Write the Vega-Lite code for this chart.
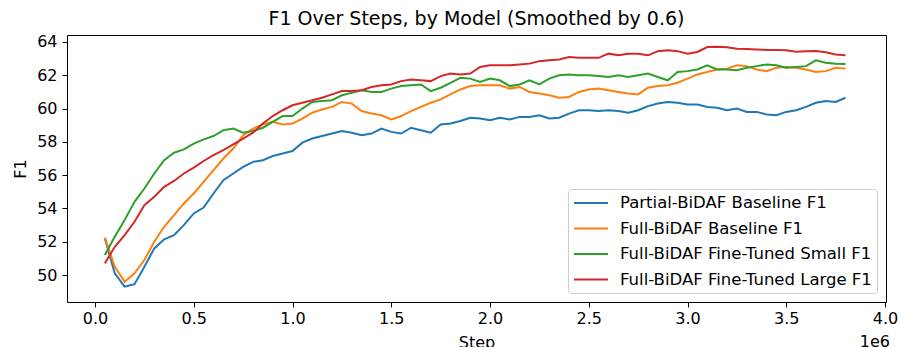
{
"$schema":"https://vega.github.io/schema/vega-lite/v6.json",
"width":819,"height":267,
"autosize":{"type":"none"},
"padding":{"left":67,"top":35,"right":13,"bottom":45},
"background":"white",
"config":{"font":"DejaVu Sans","view":{"stroke":"#000","strokeWidth":1},"axis":{"labelOverlap":false,"grid":false,"domain":false}},
"title":{"text":"F1 Over Steps, by Model (Smoothed by 0.6)","fontSize":19,"fontWeight":"normal","color":"#000","anchor":"middle","offset":5},
"layer":[
{"data":{"values":[
{"Step":50000,"Partial-BiDAF Baseline F1":52.2,"Full-BiDAF Baseline F1":52.25,"Full-BiDAF Fine-Tuned Small F1":51.2,"Full-BiDAF Fine-Tuned Large F1":50.7},
{"Step":100000,"Partial-BiDAF Baseline F1":50.1,"Full-BiDAF Baseline F1":50.5,"Full-BiDAF Fine-Tuned Small F1":52.3,"Full-BiDAF Fine-Tuned Large F1":51.7},
{"Step":150000,"Partial-BiDAF Baseline F1":49.3,"Full-BiDAF Baseline F1":49.6,"Full-BiDAF Fine-Tuned Small F1":53.3,"Full-BiDAF Fine-Tuned Large F1":52.4},
{"Step":200000,"Partial-BiDAF Baseline F1":49.45,"Full-BiDAF Baseline F1":50.1,"Full-BiDAF Fine-Tuned Small F1":54.4,"Full-BiDAF Fine-Tuned Large F1":53.2},
{"Step":250000,"Partial-BiDAF Baseline F1":50.5,"Full-BiDAF Baseline F1":50.9,"Full-BiDAF Fine-Tuned Small F1":55.2,"Full-BiDAF Fine-Tuned Large F1":54.2},
{"Step":300000,"Partial-BiDAF Baseline F1":51.6,"Full-BiDAF Baseline F1":52.0,"Full-BiDAF Fine-Tuned Small F1":56.1,"Full-BiDAF Fine-Tuned Large F1":54.7},
{"Step":350000,"Partial-BiDAF Baseline F1":52.15,"Full-BiDAF Baseline F1":52.9,"Full-BiDAF Fine-Tuned Small F1":56.9,"Full-BiDAF Fine-Tuned Large F1":55.3},
{"Step":400000,"Partial-BiDAF Baseline F1":52.4,"Full-BiDAF Baseline F1":53.6,"Full-BiDAF Fine-Tuned Small F1":57.35,"Full-BiDAF Fine-Tuned Large F1":55.65},
{"Step":450000,"Partial-BiDAF Baseline F1":53.0,"Full-BiDAF Baseline F1":54.3,"Full-BiDAF Fine-Tuned Small F1":57.55,"Full-BiDAF Fine-Tuned Large F1":56.1},
{"Step":500000,"Partial-BiDAF Baseline F1":53.7,"Full-BiDAF Baseline F1":54.9,"Full-BiDAF Fine-Tuned Small F1":57.9,"Full-BiDAF Fine-Tuned Large F1":56.45},
{"Step":550000,"Partial-BiDAF Baseline F1":54.05,"Full-BiDAF Baseline F1":55.6,"Full-BiDAF Fine-Tuned Small F1":58.15,"Full-BiDAF Fine-Tuned Large F1":56.85},
{"Step":600000,"Partial-BiDAF Baseline F1":54.9,"Full-BiDAF Baseline F1":56.3,"Full-BiDAF Fine-Tuned Small F1":58.35,"Full-BiDAF Fine-Tuned Large F1":57.2},
{"Step":650000,"Partial-BiDAF Baseline F1":55.7,"Full-BiDAF Baseline F1":57.0,"Full-BiDAF Fine-Tuned Small F1":58.7,"Full-BiDAF Fine-Tuned Large F1":57.5},
{"Step":700000,"Partial-BiDAF Baseline F1":56.1,"Full-BiDAF Baseline F1":57.6,"Full-BiDAF Fine-Tuned Small F1":58.8,"Full-BiDAF Fine-Tuned Large F1":57.85},
{"Step":750000,"Partial-BiDAF Baseline F1":56.5,"Full-BiDAF Baseline F1":58.4,"Full-BiDAF Fine-Tuned Small F1":58.55,"Full-BiDAF Fine-Tuned Large F1":58.2},
{"Step":800000,"Partial-BiDAF Baseline F1":56.8,"Full-BiDAF Baseline F1":58.8,"Full-BiDAF Fine-Tuned Small F1":58.65,"Full-BiDAF Fine-Tuned Large F1":58.55},
{"Step":850000,"Partial-BiDAF Baseline F1":56.9,"Full-BiDAF Baseline F1":59.05,"Full-BiDAF Fine-Tuned Small F1":58.85,"Full-BiDAF Fine-Tuned Large F1":59.1},
{"Step":900000,"Partial-BiDAF Baseline F1":57.15,"Full-BiDAF Baseline F1":59.2,"Full-BiDAF Fine-Tuned Small F1":59.2,"Full-BiDAF Fine-Tuned Large F1":59.55},
{"Step":950000,"Partial-BiDAF Baseline F1":57.3,"Full-BiDAF Baseline F1":59.05,"Full-BiDAF Fine-Tuned Small F1":59.55,"Full-BiDAF Fine-Tuned Large F1":59.9},
{"Step":1000000,"Partial-BiDAF Baseline F1":57.45,"Full-BiDAF Baseline F1":59.1,"Full-BiDAF Fine-Tuned Small F1":59.55,"Full-BiDAF Fine-Tuned Large F1":60.2},
{"Step":1050000,"Partial-BiDAF Baseline F1":57.95,"Full-BiDAF Baseline F1":59.4,"Full-BiDAF Fine-Tuned Small F1":60.0,"Full-BiDAF Fine-Tuned Large F1":60.35},
{"Step":1100000,"Partial-BiDAF Baseline F1":58.2,"Full-BiDAF Baseline F1":59.75,"Full-BiDAF Fine-Tuned Small F1":60.4,"Full-BiDAF Fine-Tuned Large F1":60.5},
{"Step":1150000,"Partial-BiDAF Baseline F1":58.35,"Full-BiDAF Baseline F1":59.95,"Full-BiDAF Fine-Tuned Small F1":60.45,"Full-BiDAF Fine-Tuned Large F1":60.65},
{"Step":1200000,"Partial-BiDAF Baseline F1":58.5,"Full-BiDAF Baseline F1":60.1,"Full-BiDAF Fine-Tuned Small F1":60.5,"Full-BiDAF Fine-Tuned Large F1":60.85},
{"Step":1250000,"Partial-BiDAF Baseline F1":58.65,"Full-BiDAF Baseline F1":60.4,"Full-BiDAF Fine-Tuned Small F1":60.8,"Full-BiDAF Fine-Tuned Large F1":61.05},
{"Step":1300000,"Partial-BiDAF Baseline F1":58.55,"Full-BiDAF Baseline F1":60.3,"Full-BiDAF Fine-Tuned Small F1":60.95,"Full-BiDAF Fine-Tuned Large F1":61.05},
{"Step":1350000,"Partial-BiDAF Baseline F1":58.4,"Full-BiDAF Baseline F1":59.85,"Full-BiDAF Fine-Tuned Small F1":61.1,"Full-BiDAF Fine-Tuned Large F1":61.1},
{"Step":1400000,"Partial-BiDAF Baseline F1":58.5,"Full-BiDAF Baseline F1":59.7,"Full-BiDAF Fine-Tuned Small F1":61.0,"Full-BiDAF Fine-Tuned Large F1":61.3},
{"Step":1450000,"Partial-BiDAF Baseline F1":58.8,"Full-BiDAF Baseline F1":59.6,"Full-BiDAF Fine-Tuned Small F1":61.0,"Full-BiDAF Fine-Tuned Large F1":61.4},
{"Step":1500000,"Partial-BiDAF Baseline F1":58.6,"Full-BiDAF Baseline F1":59.35,"Full-BiDAF Fine-Tuned Small F1":61.2,"Full-BiDAF Fine-Tuned Large F1":61.45},
{"Step":1550000,"Partial-BiDAF Baseline F1":58.5,"Full-BiDAF Baseline F1":59.55,"Full-BiDAF Fine-Tuned Small F1":61.35,"Full-BiDAF Fine-Tuned Large F1":61.65},
{"Step":1600000,"Partial-BiDAF Baseline F1":58.85,"Full-BiDAF Baseline F1":59.85,"Full-BiDAF Fine-Tuned Small F1":61.4,"Full-BiDAF Fine-Tuned Large F1":61.75},
{"Step":1650000,"Partial-BiDAF Baseline F1":58.7,"Full-BiDAF Baseline F1":60.1,"Full-BiDAF Fine-Tuned Small F1":61.45,"Full-BiDAF Fine-Tuned Large F1":61.7},
{"Step":1700000,"Partial-BiDAF Baseline F1":58.55,"Full-BiDAF Baseline F1":60.35,"Full-BiDAF Fine-Tuned Small F1":61.05,"Full-BiDAF Fine-Tuned Large F1":61.65},
{"Step":1750000,"Partial-BiDAF Baseline F1":59.05,"Full-BiDAF Baseline F1":60.55,"Full-BiDAF Fine-Tuned Small F1":61.25,"Full-BiDAF Fine-Tuned Large F1":61.95},
{"Step":1800000,"Partial-BiDAF Baseline F1":59.1,"Full-BiDAF Baseline F1":60.85,"Full-BiDAF Fine-Tuned Small F1":61.55,"Full-BiDAF Fine-Tuned Large F1":62.1},
{"Step":1850000,"Partial-BiDAF Baseline F1":59.25,"Full-BiDAF Baseline F1":61.15,"Full-BiDAF Fine-Tuned Small F1":61.85,"Full-BiDAF Fine-Tuned Large F1":62.05},
{"Step":1900000,"Partial-BiDAF Baseline F1":59.45,"Full-BiDAF Baseline F1":61.35,"Full-BiDAF Fine-Tuned Small F1":61.8,"Full-BiDAF Fine-Tuned Large F1":62.1},
{"Step":1950000,"Partial-BiDAF Baseline F1":59.4,"Full-BiDAF Baseline F1":61.4,"Full-BiDAF Fine-Tuned Small F1":61.6,"Full-BiDAF Fine-Tuned Large F1":62.5},
{"Step":2000000,"Partial-BiDAF Baseline F1":59.3,"Full-BiDAF Baseline F1":61.4,"Full-BiDAF Fine-Tuned Small F1":61.8,"Full-BiDAF Fine-Tuned Large F1":62.6},
{"Step":2050000,"Partial-BiDAF Baseline F1":59.45,"Full-BiDAF Baseline F1":61.4,"Full-BiDAF Fine-Tuned Small F1":61.7,"Full-BiDAF Fine-Tuned Large F1":62.6},
{"Step":2100000,"Partial-BiDAF Baseline F1":59.35,"Full-BiDAF Baseline F1":61.2,"Full-BiDAF Fine-Tuned Small F1":61.35,"Full-BiDAF Fine-Tuned Large F1":62.6},
{"Step":2150000,"Partial-BiDAF Baseline F1":59.5,"Full-BiDAF Baseline F1":61.3,"Full-BiDAF Fine-Tuned Small F1":61.45,"Full-BiDAF Fine-Tuned Large F1":62.65},
{"Step":2200000,"Partial-BiDAF Baseline F1":59.5,"Full-BiDAF Baseline F1":61.0,"Full-BiDAF Fine-Tuned Small F1":61.7,"Full-BiDAF Fine-Tuned Large F1":62.7},
{"Step":2250000,"Partial-BiDAF Baseline F1":59.6,"Full-BiDAF Baseline F1":60.9,"Full-BiDAF Fine-Tuned Small F1":61.45,"Full-BiDAF Fine-Tuned Large F1":62.85},
{"Step":2300000,"Partial-BiDAF Baseline F1":59.4,"Full-BiDAF Baseline F1":60.8,"Full-BiDAF Fine-Tuned Small F1":61.8,"Full-BiDAF Fine-Tuned Large F1":62.9},
{"Step":2350000,"Partial-BiDAF Baseline F1":59.45,"Full-BiDAF Baseline F1":60.65,"Full-BiDAF Fine-Tuned Small F1":62.0,"Full-BiDAF Fine-Tuned Large F1":62.95},
{"Step":2400000,"Partial-BiDAF Baseline F1":59.7,"Full-BiDAF Baseline F1":60.7,"Full-BiDAF Fine-Tuned Small F1":62.05,"Full-BiDAF Fine-Tuned Large F1":63.1},
{"Step":2450000,"Partial-BiDAF Baseline F1":59.9,"Full-BiDAF Baseline F1":61.0,"Full-BiDAF Fine-Tuned Small F1":62.0,"Full-BiDAF Fine-Tuned Large F1":63.05},
{"Step":2500000,"Partial-BiDAF Baseline F1":59.9,"Full-BiDAF Baseline F1":61.15,"Full-BiDAF Fine-Tuned Small F1":62.0,"Full-BiDAF Fine-Tuned Large F1":63.05},
{"Step":2550000,"Partial-BiDAF Baseline F1":59.85,"Full-BiDAF Baseline F1":61.2,"Full-BiDAF Fine-Tuned Small F1":61.95,"Full-BiDAF Fine-Tuned Large F1":63.05},
{"Step":2600000,"Partial-BiDAF Baseline F1":59.9,"Full-BiDAF Baseline F1":61.1,"Full-BiDAF Fine-Tuned Small F1":61.9,"Full-BiDAF Fine-Tuned Large F1":63.3},
{"Step":2650000,"Partial-BiDAF Baseline F1":59.85,"Full-BiDAF Baseline F1":61.0,"Full-BiDAF Fine-Tuned Small F1":62.0,"Full-BiDAF Fine-Tuned Large F1":63.2},
{"Step":2700000,"Partial-BiDAF Baseline F1":59.75,"Full-BiDAF Baseline F1":60.9,"Full-BiDAF Fine-Tuned Small F1":61.9,"Full-BiDAF Fine-Tuned Large F1":63.3},
{"Step":2750000,"Partial-BiDAF Baseline F1":59.9,"Full-BiDAF Baseline F1":60.85,"Full-BiDAF Fine-Tuned Small F1":62.0,"Full-BiDAF Fine-Tuned Large F1":63.3},
{"Step":2800000,"Partial-BiDAF Baseline F1":60.15,"Full-BiDAF Baseline F1":61.25,"Full-BiDAF Fine-Tuned Small F1":62.1,"Full-BiDAF Fine-Tuned Large F1":63.2},
{"Step":2850000,"Partial-BiDAF Baseline F1":60.3,"Full-BiDAF Baseline F1":61.35,"Full-BiDAF Fine-Tuned Small F1":61.9,"Full-BiDAF Fine-Tuned Large F1":63.45},
{"Step":2900000,"Partial-BiDAF Baseline F1":60.4,"Full-BiDAF Baseline F1":61.4,"Full-BiDAF Fine-Tuned Small F1":61.7,"Full-BiDAF Fine-Tuned Large F1":63.5},
{"Step":2950000,"Partial-BiDAF Baseline F1":60.35,"Full-BiDAF Baseline F1":61.55,"Full-BiDAF Fine-Tuned Small F1":62.2,"Full-BiDAF Fine-Tuned Large F1":63.45},
{"Step":3000000,"Partial-BiDAF Baseline F1":60.25,"Full-BiDAF Baseline F1":61.8,"Full-BiDAF Fine-Tuned Small F1":62.25,"Full-BiDAF Fine-Tuned Large F1":63.3},
{"Step":3050000,"Partial-BiDAF Baseline F1":60.25,"Full-BiDAF Baseline F1":62.05,"Full-BiDAF Fine-Tuned Small F1":62.35,"Full-BiDAF Fine-Tuned Large F1":63.4},
{"Step":3100000,"Partial-BiDAF Baseline F1":60.1,"Full-BiDAF Baseline F1":62.2,"Full-BiDAF Fine-Tuned Small F1":62.6,"Full-BiDAF Fine-Tuned Large F1":63.7},
{"Step":3150000,"Partial-BiDAF Baseline F1":60.05,"Full-BiDAF Baseline F1":62.35,"Full-BiDAF Fine-Tuned Small F1":62.35,"Full-BiDAF Fine-Tuned Large F1":63.72},
{"Step":3200000,"Partial-BiDAF Baseline F1":59.9,"Full-BiDAF Baseline F1":62.4,"Full-BiDAF Fine-Tuned Small F1":62.35,"Full-BiDAF Fine-Tuned Large F1":63.68},
{"Step":3250000,"Partial-BiDAF Baseline F1":60.0,"Full-BiDAF Baseline F1":62.6,"Full-BiDAF Fine-Tuned Small F1":62.3,"Full-BiDAF Fine-Tuned Large F1":63.6},
{"Step":3300000,"Partial-BiDAF Baseline F1":59.8,"Full-BiDAF Baseline F1":62.55,"Full-BiDAF Fine-Tuned Small F1":62.45,"Full-BiDAF Fine-Tuned Large F1":63.58},
{"Step":3350000,"Partial-BiDAF Baseline F1":59.8,"Full-BiDAF Baseline F1":62.35,"Full-BiDAF Fine-Tuned Small F1":62.55,"Full-BiDAF Fine-Tuned Large F1":63.55},
{"Step":3400000,"Partial-BiDAF Baseline F1":59.65,"Full-BiDAF Baseline F1":62.25,"Full-BiDAF Fine-Tuned Small F1":62.65,"Full-BiDAF Fine-Tuned Large F1":63.52},
{"Step":3450000,"Partial-BiDAF Baseline F1":59.6,"Full-BiDAF Baseline F1":62.45,"Full-BiDAF Fine-Tuned Small F1":62.6,"Full-BiDAF Fine-Tuned Large F1":63.52},
{"Step":3500000,"Partial-BiDAF Baseline F1":59.8,"Full-BiDAF Baseline F1":62.5,"Full-BiDAF Fine-Tuned Small F1":62.45,"Full-BiDAF Fine-Tuned Large F1":63.5},
{"Step":3550000,"Partial-BiDAF Baseline F1":59.9,"Full-BiDAF Baseline F1":62.45,"Full-BiDAF Fine-Tuned Small F1":62.5,"Full-BiDAF Fine-Tuned Large F1":63.42},
{"Step":3600000,"Partial-BiDAF Baseline F1":60.1,"Full-BiDAF Baseline F1":62.35,"Full-BiDAF Fine-Tuned Small F1":62.55,"Full-BiDAF Fine-Tuned Large F1":63.45},
{"Step":3650000,"Partial-BiDAF Baseline F1":60.35,"Full-BiDAF Baseline F1":62.2,"Full-BiDAF Fine-Tuned Small F1":62.9,"Full-BiDAF Fine-Tuned Large F1":63.46},
{"Step":3700000,"Partial-BiDAF Baseline F1":60.45,"Full-BiDAF Baseline F1":62.25,"Full-BiDAF Fine-Tuned Small F1":62.75,"Full-BiDAF Fine-Tuned Large F1":63.38},
{"Step":3750000,"Partial-BiDAF Baseline F1":60.4,"Full-BiDAF Baseline F1":62.45,"Full-BiDAF Fine-Tuned Small F1":62.7,"Full-BiDAF Fine-Tuned Large F1":63.25},
{"Step":3800000,"Partial-BiDAF Baseline F1":60.65,"Full-BiDAF Baseline F1":62.4,"Full-BiDAF Fine-Tuned Small F1":62.68,"Full-BiDAF Fine-Tuned Large F1":63.2}
]},
"transform":[{"fold":["Partial-BiDAF Baseline F1","Full-BiDAF Baseline F1","Full-BiDAF Fine-Tuned Small F1","Full-BiDAF Fine-Tuned Large F1"],"as":["Model","F1"]}],
"mark":{"type":"line","strokeWidth":2,"clip":true},
"encoding":{
"x":{"field":"Step","type":"quantitative","scale":{"domain":[-141800,4005000],"nice":false,"zero":false},
 "axis":{"values":[0,500000,1000000,1500000,2000000,2500000,3000000,3500000,4000000],"tickCount":20,"labelExpr":"format(datum.value/1000000,'.1f')","title":"Step","titleFontSize":16,"titleFontWeight":"normal","titleColor":"#000","labelFontSize":16,"labelColor":"#000","tickSize":5,"tickColor":"#000","labelPadding":3,"titlePadding":8,"domain":false,"grid":false,"labelFlush":false,"labelOverlap":false}},
"y":{"field":"F1","type":"quantitative","scale":{"domain":[48.38,64.42],"nice":false,"zero":false},
 "axis":{"values":[50,52,54,56,58,60,62,64],"tickCount":20,"title":"F1","titleFontSize":16,"titleFontWeight":"normal","titleColor":"#000","labelFontSize":16,"labelColor":"#000","tickSize":5,"tickColor":"#000","labelPadding":5,"titlePadding":8,"domain":false,"grid":false,"labelOverlap":false}},
"color":{"field":"Model","type":"nominal",
 "scale":{"domain":["Partial-BiDAF Baseline F1","Full-BiDAF Baseline F1","Full-BiDAF Fine-Tuned Small F1","Full-BiDAF Fine-Tuned Large F1"],"range":["#1f77b4","#ff7f0e","#2ca02c","#d62728"]},
 "legend":{"orient":"bottom-right","offset":9,"title":null,"symbolType":"M-1,0H3.25","symbolSize":256,"symbolStrokeWidth":2,"labelFontSize":16.5,"labelColor":"#000","fillColor":"rgba(255,255,255,0.8)","strokeColor":"#cccccc","cornerRadius":3,"padding":5,"rowPadding":7.5,"labelOffset":29,"labelLimit":400}}
}},
{"data":{"values":[{"label":"1e6"}]},
 "mark":{"type":"text","fontSize":16,"align":"right","baseline":"top","dy":32,"dx":4,"color":"#000"},
 "encoding":{"text":{"field":"label"},"x":{"datum":4005000,"type":"quantitative"},"y":{"datum":48.38,"type":"quantitative"}}}
]
}
